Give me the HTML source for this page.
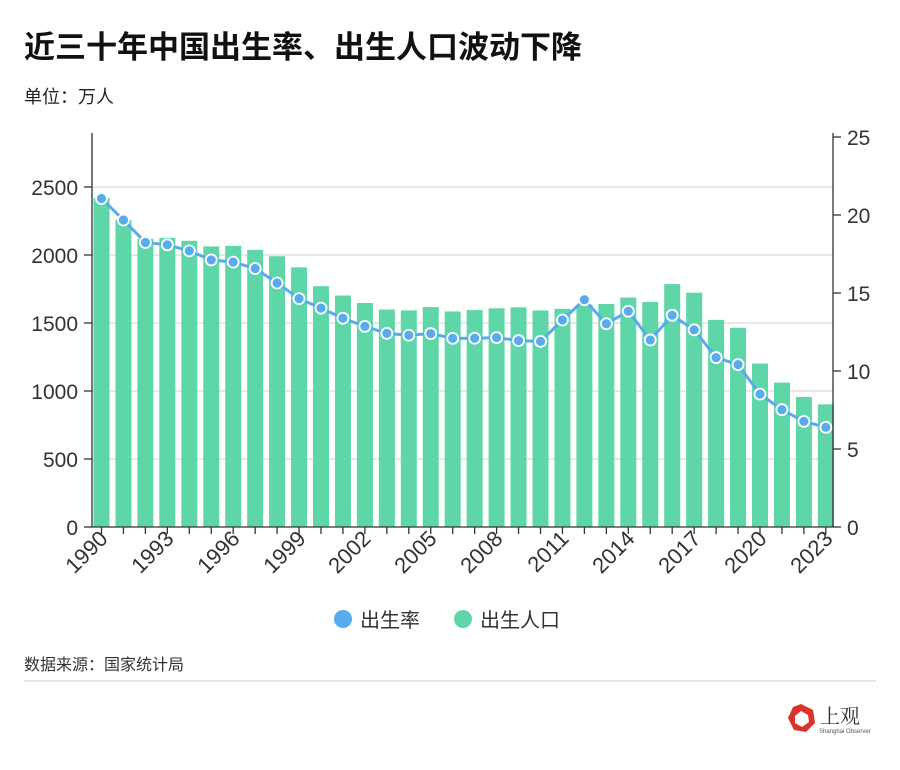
<!DOCTYPE html>
<html><head><meta charset="utf-8"><style>
body{margin:0;background:#fff;width:900px;height:765px;overflow:hidden;font-family:"Liberation Sans","Noto Sans CJK SC",sans-serif;}
</style></head><body>
<svg id="s" width="900" height="765" xmlns="http://www.w3.org/2000/svg" font-family="Liberation Sans, Noto Sans CJK SC, sans-serif">
<text x="24" y="58" font-size="31" font-weight="bold" fill="#111">近三十年中国出生率、出生人口波动下降</text>
<text x="24" y="103" font-size="18" fill="#222">单位：万人</text>
<g stroke="#d0d0d0" stroke-width="1">
<line x1="92" x2="833" y1="187" y2="187"/><line x1="92" x2="833" y1="255" y2="255"/><line x1="92" x2="833" y1="323" y2="323"/><line x1="92" x2="833" y1="391" y2="391"/><line x1="92" x2="833" y1="459" y2="459"/>
</g>
<g id="bars" fill="#5fd6a8"></g>
<g stroke="#333" stroke-width="1.3">
<line x1="92" x2="92" y1="133" y2="527"/><line x1="833" x2="833" y1="133" y2="527"/><line x1="92" x2="833" y1="527" y2="527"/>
<line x1="84" x2="92" y1="187" y2="187"/><line x1="84" x2="92" y1="255" y2="255"/><line x1="84" x2="92" y1="323" y2="323"/><line x1="84" x2="92" y1="391" y2="391"/><line x1="84" x2="92" y1="459" y2="459"/><line x1="84" x2="92" y1="527" y2="527"/>
<line x1="833" x2="841" y1="137" y2="137"/><line x1="833" x2="841" y1="215" y2="215"/><line x1="833" x2="841" y1="293" y2="293"/><line x1="833" x2="841" y1="371" y2="371"/><line x1="833" x2="841" y1="449" y2="449"/><line x1="833" x2="841" y1="527" y2="527"/>
</g>
<g id="ticks" stroke="#333" stroke-width="1.3"></g>
<g id="line"></g>
<g font-size="21" fill="#333" text-anchor="end">
<text x="78" y="195">2500</text><text x="78" y="263">2000</text><text x="78" y="331">1500</text><text x="78" y="399">1000</text><text x="78" y="467">500</text><text x="78" y="535">0</text>
</g>
<g font-size="21" fill="#333" text-anchor="start">
<text x="847" y="145">25</text><text x="847" y="223">20</text><text x="847" y="301">15</text><text x="847" y="379">10</text><text x="847" y="457">5</text><text x="847" y="535">0</text>
</g>
<g font-size="22" fill="#333" text-anchor="end">
<text transform="translate(109,540) rotate(-45)">1990</text>
<text transform="translate(175,540) rotate(-45)">1993</text>
<text transform="translate(241,540) rotate(-45)">1996</text>
<text transform="translate(307,540) rotate(-45)">1999</text>
<text transform="translate(372,540) rotate(-45)">2002</text>
<text transform="translate(438,540) rotate(-45)">2005</text>
<text transform="translate(504,540) rotate(-45)">2008</text>
<text transform="translate(570,540) rotate(-45)">2011</text>
<text transform="translate(636,540) rotate(-45)">2014</text>
<text transform="translate(702,540) rotate(-45)">2017</text>
<text transform="translate(768,540) rotate(-45)">2020</text>
<text transform="translate(834,540) rotate(-45)">2023</text>
</g>
<circle cx="343" cy="619" r="9" fill="#5aabec"/>
<text x="360" y="627" font-size="20" fill="#333">出生率</text>
<circle cx="463" cy="619" r="9" fill="#5fd6a8"/>
<text x="480" y="627" font-size="20" fill="#333">出生人口</text>
<text x="24" y="670" font-size="16" fill="#333">数据来源：国家统计局</text>
<line x1="24" x2="876" y1="681" y2="681" stroke="#ccc"/>
<polygon points="801,704 813,710 815,723 806,732 794,730 788,718 793,707" fill="#d9332b"/>
<polygon points="801,711 808,715 809,722 802,727 795,723 795,716" fill="#fff"/>
<text x="820" y="723" font-size="20" fill="#333" font-family="Noto Serif CJK SC, serif">上观</text>
<text x="819" y="733" font-size="6" fill="#555">Shanghai Observer</text>
</svg>
<script>
var pop=[2419,2258,2119,2126,2104,2063,2067,2038,1991,1909,1771,1702,1647,1599,1593,1617,1585,1595,1608,1615,1592,1604,1635,1640,1687,1655,1786,1723,1523,1465,1202,1062,956,902];
var rate=[21.06,19.68,18.24,18.09,17.70,17.12,16.98,16.57,15.64,14.64,14.03,13.38,12.86,12.41,12.29,12.40,12.09,12.10,12.14,11.95,11.90,13.27,14.57,13.03,13.83,11.99,13.57,12.64,10.86,10.41,8.52,7.52,6.77,6.39];
var NS="http://www.w3.org/2000/svg";
function el(t,a,p){var e=document.createElementNS(NS,t);for(var k in a)e.setAttribute(k,a[k]);document.getElementById(p).appendChild(e);return e;}
var pts=[];
for(var i=0;i<34;i++){var cx=101.5+i*21.95;var h=pop[i]*0.136;
el("rect",{x:cx-8,y:527-h,width:16,height:h},"bars");
el("line",{x1:cx,x2:cx,y1:527,y2:534},"ticks");
pts.push(cx+","+(527-rate[i]*15.6));}
el("polyline",{points:pts.join(" "),fill:"none",stroke:"#5aabec","stroke-width":3},"line");
pts.forEach(function(p){var c=p.split(",");el("circle",{cx:c[0],cy:c[1],r:5.5,fill:"#5aabec",stroke:"#fff","stroke-width":1.8},"line");});
</script>
</body></html>
